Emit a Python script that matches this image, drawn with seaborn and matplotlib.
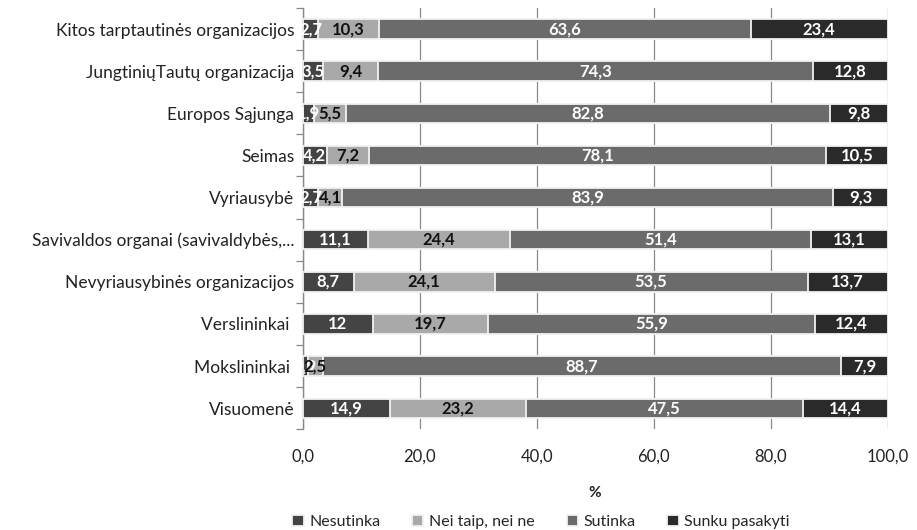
import matplotlib
matplotlib.use("Agg")
import matplotlib.pyplot as plt
import numpy as np
import pandas as pd
import seaborn as sns
from matplotlib.ticker import FixedLocator, FuncFormatter

sns.set_theme(style="white")
plt.rcParams["font.family"] = ["Lato", "DejaVu Sans"]

categories = [
    "Kitos tarptautinės organizacijos",
    "JungtiniųTautų organizacija",
    "Europos Sąjunga",
    "Seimas",
    "Vyriausybė",
    "Savivaldos organai (savivaldybės,...",
    "Nevyriausybinės organizacijos",
    "Verslininkai ",
    "Mokslininkai ",
    "Visuomenė",
]
nesutinka = [2.7, 3.5, 1.9, 4.2, 2.7, 11.1, 8.7, 12.0, 0.9, 14.9]
nei_taip = [10.3, 9.4, 5.5, 7.2, 4.1, 24.4, 24.1, 19.7, 2.5, 23.2]
sutinka = [63.6, 74.3, 82.8, 78.1, 83.9, 51.4, 53.5, 55.9, 88.7, 47.5]
sunku = [23.4, 12.8, 9.8, 10.5, 9.3, 13.1, 13.7, 12.4, 7.9, 14.4]
series_names = ["Nesutinka", "Nei taip, nei ne", "Sutinka", "Sunku pasakyti"]
colors = ["#444444", "#a9a9a9", "#6b6b6b", "#2a2a2a"]
label_colors = ["white", "#111111", "white", "white"]

df = pd.DataFrame(
    {"cat": categories, series_names[0]: nesutinka, series_names[1]: nei_taip,
     series_names[2]: sutinka, series_names[3]: sunku}
)
cum = df[series_names].cumsum(axis=1)

fig, ax = plt.subplots(figsize=(9.17, 5.30), dpi=100)
fig.subplots_adjust(left=0.33, right=0.968, top=0.985, bottom=0.19)

# Stacked bars: draw cumulative totals from the outermost layer inwards
for i in reversed(range(len(series_names))):
    sns.barplot(x=cum[series_names[i]], y=df["cat"], orient="h", color=colors[i],
                width=0.46, edgecolor="#f2f2f2", linewidth=1.3, ax=ax,
                label=series_names[i], zorder=3)

# Value labels in the middle of each segment
for i, name in enumerate(series_names):
    for j, val in enumerate(df[name]):
        left = cum.iloc[j, i] - val
        txt = f"{val:g}".replace(".", ",")
        ax.text(left + val / 2, j, txt, ha="center", va="center", fontsize=12,
                fontweight="bold", color=label_colors[i], zorder=5)

ax.set_xlim(0, 100)
ax.set_ylim(len(categories) - 0.5, -0.5)
ax.xaxis.set_major_locator(FixedLocator([0, 20, 40, 60, 80, 100]))
ax.xaxis.set_major_formatter(FuncFormatter(lambda v, p: f"{v:.1f}".replace(".", ",")))
ax.grid(axis="x", color="#8a8a8a", linewidth=0.9, zorder=0)
ax.set_axisbelow(True)

for s in ["top", "right", "bottom"]:
    ax.spines[s].set_visible(False)
ax.spines["left"].set_color("#888888")
ax.spines["left"].set_linewidth(1.0)

# Excel-style ticks between categories on the category axis
ax.yaxis.set_minor_locator(FixedLocator(np.arange(-0.5, len(categories), 1.0)))
ax.tick_params(axis="y", which="minor", length=5, width=0.9, color="#888888", left=True)
ax.tick_params(axis="y", which="major", length=0, labelsize=12.5, pad=6, labelcolor="#222222")
ax.tick_params(axis="x", length=0, labelsize=12, pad=14, labelcolor="#222222")

ax.set_xlabel("%", fontsize=11, fontweight="bold", labelpad=15, color="#222222")
ax.set_ylabel("")

handles, labels = ax.get_legend_handles_labels()
if ax.get_legend() is not None:
    ax.get_legend().remove()
order = [labels.index(n) for n in series_names]
fig.legend([handles[k] for k in order], [labels[k] for k in order], loc="lower center",
           bbox_to_anchor=(0.59, -0.025), ncol=4, frameon=False, fontsize=11.5,
           handlelength=0.7, handleheight=0.7, handletextpad=0.35, columnspacing=2.0)

fig.savefig("out.png", dpi=100)
